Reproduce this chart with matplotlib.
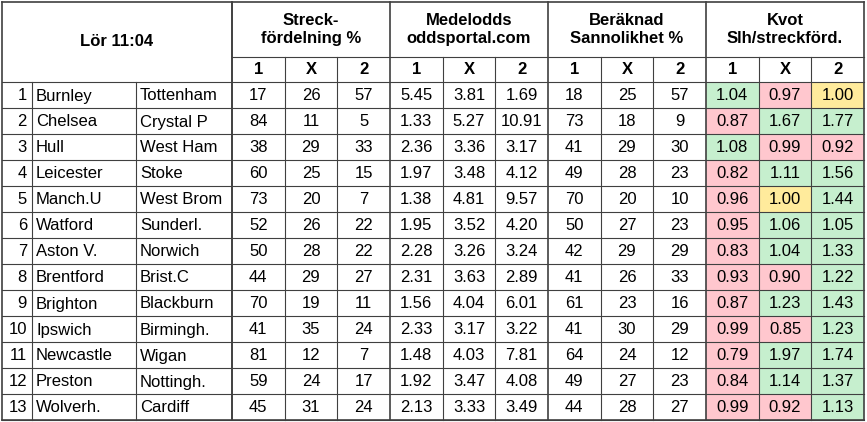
import matplotlib.pyplot as plt
from matplotlib.patches import Rectangle

home = ['Burnley', 'Chelsea', 'Hull', 'Leicester', 'Manch.U', 'Watford', 'Aston V.',
        'Brentford', 'Brighton', 'Ipswich', 'Newcastle', 'Preston', 'Wolverh.']
away = ['Tottenham', 'Crystal P', 'West Ham', 'Stoke', 'West Brom', 'Sunderl.', 'Norwich',
        'Brist.C', 'Blackburn', 'Birmingh.', 'Wigan', 'Nottingh.', 'Cardiff']
streck = [[17, 26, 57], [84, 11, 5], [38, 29, 33], [60, 25, 15], [73, 20, 7], [52, 26, 22],
          [50, 28, 22], [44, 29, 27], [70, 19, 11], [41, 35, 24], [81, 12, 7], [59, 24, 17],
          [45, 31, 24]]
odds = [[5.45, 3.81, 1.69], [1.33, 5.27, 10.91], [2.36, 3.36, 3.17], [1.97, 3.48, 4.12],
        [1.38, 4.81, 9.57], [1.95, 3.52, 4.20], [2.28, 3.26, 3.24], [2.31, 3.63, 2.89],
        [1.56, 4.04, 6.01], [2.33, 3.17, 3.22], [1.48, 4.03, 7.81], [1.92, 3.47, 4.08],
        [2.13, 3.33, 3.49]]
prob = [[18, 25, 57], [73, 18, 9], [41, 29, 30], [49, 28, 23], [70, 20, 10], [50, 27, 23],
        [42, 29, 29], [41, 26, 33], [61, 23, 16], [41, 30, 29], [64, 24, 12], [49, 27, 23],
        [44, 28, 27]]
kvot = [[1.04, 0.97, 1.00], [0.87, 1.67, 1.77], [1.08, 0.99, 0.92], [0.82, 1.11, 1.56],
        [0.96, 1.00, 1.44], [0.95, 1.06, 1.05], [0.83, 1.04, 1.33], [0.93, 0.90, 1.22],
        [0.87, 1.23, 1.43], [0.99, 0.85, 1.23], [0.79, 1.97, 1.74], [0.84, 1.14, 1.37],
        [0.99, 0.92, 1.13]]
groups = ['Streck-\nfördelning %', 'Medelodds\noddsportal.com', 'Beräknad\nSannolikhet %',
          'Kvot\nSlh/streckförd.']
title = 'Lör 11:04'

FONT = 'Liberation Sans'
FS = 12
fig = plt.figure(figsize=(8.67, 4.22), dpi=100)
ax = fig.add_axes([0, 0, 1, 1])
ax.set_xlim(0, 867)
ax.set_ylim(422, 0)
ax.axis('off')

x_num, x_home, x_away, x_data = 2, 32, 136, 232
gw = 158
sub = gw / 3
y_top, y_h2, y_body, rh = 2, 57, 82, 26
x_end = x_data + 4 * gw
y_end = y_body + rh * len(home)

green, red, yellow = '#C6EFCE', '#FFC7CE', '#FFEB9C'
lc = '#404040'

# header
ax.text((x_num + x_data) / 2, (y_top + y_body) / 2, title, ha='center', va='center',
        fontsize=FS, fontweight='bold', family=FONT)
for g, label in enumerate(groups):
    gx = x_data + g * gw
    ax.text(gx + gw / 2, (y_top + y_h2) / 2, label, ha='center', va='center',
            fontsize=FS, fontweight='bold', family=FONT, linespacing=1.3)
    for k, s in enumerate(['1', 'X', '2']):
        ax.text(gx + sub * (k + 0.5), (y_h2 + y_body) / 2, s, ha='center', va='center',
                fontsize=FS, fontweight='bold', family=FONT)

# body
for i in range(len(home)):
    y0 = y_body + i * rh
    yc = y0 + rh / 2 + 1
    ax.text(x_home - 5, yc, str(i + 1), ha='right', va='center', fontsize=FS, family=FONT)
    ax.text(x_home + 4, yc, home[i], ha='left', va='center', fontsize=FS, family=FONT)
    ax.text(x_away + 4, yc, away[i], ha='left', va='center', fontsize=FS, family=FONT)
    for g, (vals, fmt) in enumerate([(streck, '{:d}'), (odds, '{:.2f}'),
                                     (prob, '{:d}'), (kvot, '{:.2f}')]):
        gx = x_data + g * gw
        for k in range(3):
            v = vals[i][k]
            if g == 3:
                c = green if v > 1.0 else (red if v < 1.0 else yellow)
                ax.add_patch(Rectangle((gx + k * sub, y0), sub, rh, facecolor=c,
                                       edgecolor='none'))
            ax.text(gx + sub * (k + 0.5), yc, fmt.format(v), ha='center', va='center',
                    fontsize=FS, family=FONT)

# grid lines
for i in range(len(home) + 1):
    y = y_body + i * rh
    ax.plot([x_num, x_end], [y, y], color=lc, lw=0.8)
ax.plot([x_data, x_end], [y_h2, y_h2], color=lc, lw=0.8)
ax.plot([x_num, x_end], [y_top, y_top], color=lc, lw=1.2)
ax.plot([x_num, x_end], [y_end, y_end], color=lc, lw=1.2)
for x in [x_num, x_data, x_end]:
    ax.plot([x, x], [y_top, y_end], color=lc, lw=1.2)
for x in [x_home, x_away]:
    ax.plot([x, x], [y_body, y_end], color=lc, lw=0.8)
for g in range(4):
    gx = x_data + g * gw
    ax.plot([gx, gx], [y_top, y_end], color=lc, lw=1.2)
    for k in (1, 2):
        ax.plot([gx + k * sub] * 2, [y_h2, y_end], color=lc, lw=0.8)

fig.savefig('out.png', dpi=100)
